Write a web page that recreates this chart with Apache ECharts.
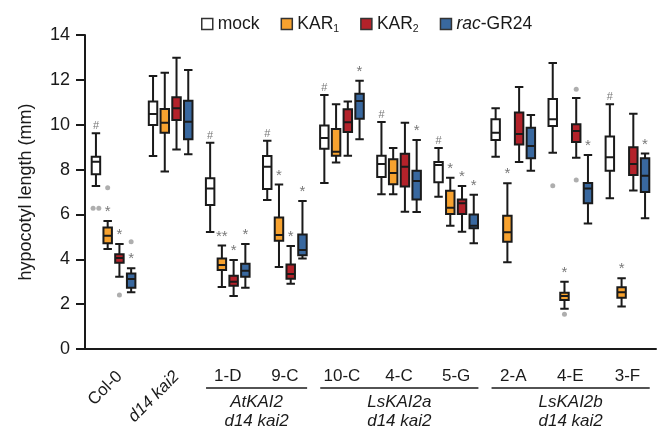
<!DOCTYPE html>
<html>
<head>
<meta charset="utf-8">
<script src="https://cdn.jsdelivr.net/npm/echarts@6/dist/echarts.min.js"></script>
<style>
html,body{margin:0;padding:0;background:#fff}
#main{width:659px;height:431px}
</style>
</head>
<body>
<div id="main"></div>
<script>
var categories = ['Col-0', 'd14 kai2', '1-D', '9-C', '10-C', '4-C', '5-G', '2-A', '4-E', '3-F'];
var seriesNames = ['mock', 'KAR1', 'KAR2', 'rac-GR24'];

// each row: [min, Q1, median, Q3, max]
var mockBoxes = [
  [7.27, 7.79, 8.35, 8.57, 9.62],
  [8.60, 9.99, 10.48, 11.03, 12.17],
  [5.22, 6.42, 7.16, 7.61, 9.20],
  [6.64, 7.13, 8.13, 8.60, 9.29],
  [7.40, 8.93, 9.41, 9.96, 11.32],
  [6.90, 7.67, 8.25, 8.62, 10.12],
  [6.79, 7.43, 8.20, 8.34, 8.96],
  [8.57, 9.32, 9.64, 10.24, 10.73],
  [8.75, 9.94, 10.24, 11.15, 12.75],
  [6.72, 7.95, 8.55, 9.47, 10.91]
];
var kar1Boxes = [
  [4.46, 4.71, 5.05, 5.42, 5.71],
  [7.91, 9.64, 10.09, 10.70, 12.32],
  [2.76, 3.52, 3.75, 4.03, 4.61],
  [3.66, 4.83, 5.08, 5.86, 7.33],
  [8.32, 8.62, 8.80, 9.81, 10.91],
  [6.90, 7.34, 7.85, 8.46, 8.96],
  [5.50, 6.02, 6.30, 7.06, 7.64],
  [3.87, 4.78, 5.20, 5.94, 7.39],
  [1.80, 2.18, 2.36, 2.51, 3.00],
  [1.89, 2.29, 2.53, 2.75, 3.15]
];
var kar2Boxes = [
  [3.22, 3.85, 4.06, 4.22, 4.68],
  [8.90, 10.21, 10.73, 11.22, 12.99],
  [2.36, 2.82, 3.00, 3.27, 3.97],
  [2.91, 3.13, 3.34, 3.77, 4.59],
  [8.62, 9.67, 10.11, 10.69, 11.04],
  [6.12, 7.24, 8.13, 8.71, 10.09],
  [5.23, 6.02, 6.50, 6.67, 7.27],
  [8.34, 9.12, 9.59, 10.54, 11.68],
  [8.53, 9.23, 9.72, 10.02, 11.19],
  [7.07, 7.76, 8.25, 8.99, 10.49]
];
var gr24Boxes = [
  [2.53, 2.73, 3.12, 3.37, 3.60],
  [8.68, 9.35, 10.13, 11.07, 12.44],
  [2.73, 3.22, 3.49, 3.80, 4.68],
  [4.03, 4.18, 4.41, 5.10, 6.60],
  [9.35, 10.27, 11.06, 11.38, 11.96],
  [6.11, 6.67, 7.49, 7.95, 9.32],
  [4.71, 5.38, 5.50, 6.00, 6.88],
  [7.95, 8.50, 9.05, 9.87, 10.43],
  [5.59, 6.50, 7.16, 7.40, 8.65],
  [5.83, 7.00, 7.73, 8.50, 8.72]
];

// outliers: [category index, value]
var mockOutliers = [[0, 6.27], [0, 6.27], [8, 7.28]];
var kar1Outliers = [[0, 7.19], [8, 1.55]];
var kar2Outliers = [[0, 2.41], [8, 11.58], [8, 7.53]];
var gr24Outliers = [[0, 4.78]];

// significance marks above each box
var mockMarks = ['#', '', '#', '#', '#', '#', '#', '', '', '#'];
var kar1Marks = ['*', '', '**', '*', '', '', '*', '*', '*', '*'];
var kar2Marks = ['*', '', '*', '*', '', '', '*', '', '', ''];
var gr24Marks = ['*', '', '*', '*', '*', '*', '*', '', '*', '*'];

var groupNames = ['AtKAI2', 'LsKAI2a', 'LsKAI2b'];
var groupFirst = [2, 4, 7];
var groupLast = [3, 6, 9];

var yMin = 0, yMax = 14, yStep = 2;

var boxes = [mockBoxes, kar1Boxes, kar2Boxes, gr24Boxes];
var outliers = [mockOutliers, kar1Outliers, kar2Outliers, gr24Outliers];
var marks = [mockMarks, kar1Marks, kar2Marks, gr24Marks];
var fills = ['#ffffff', '#F7A22F', '#B3222A', '#39689F'];
// box offset inside a category band (matches boxplot layout for 4 series)
var shift = [-0.308, -0.103, 0.103, 0.308];

var font = 'Liberation Sans, Arial, Helvetica, sans-serif';
var ink = '#1a1a1a';

var series = [];
boxes.forEach(function (b, s) {
  series.push({
    name: seriesNames[s],
    type: 'boxplot',
    xAxisIndex: 0,
    yAxisIndex: 0,
    data: b,
    itemStyle: { color: fills[s], borderColor: ink, borderWidth: 2 },
    emphasis: { disabled: true },
    z: 3
  });
});
outliers.forEach(function (o, s) {
  var seen = {};
  o.forEach(function (p) {
    var key = p[0] + '_' + p[1];
    seen[key] = (seen[key] || 0) + 1;
  });
  var count = {};
  var data = o.map(function (p) {
    var key = p[0] + '_' + p[1];
    var n = seen[key];
    var k = count[key] = (count[key] || 0) + 1;
    var jit = n > 1 ? (k - 1 - (n - 1) / 2) * 0.1 : 0;
    return [p[0] + shift[s] + jit, p[1]];
  });
  series.push({
    type: 'scatter',
    xAxisIndex: 1,
    yAxisIndex: 1,
    data: data,
    symbolSize: 5,
    itemStyle: { color: '#9a9a9a' },
    silent: true,
    z: 4
  });
});
marks.forEach(function (m, s) {
  var data = [];
  m.forEach(function (t, i) {
    if (t) data.push({ name: t, value: [i + shift[s], boxes[s][i][4]] });
  });
  series.push({
    type: 'scatter',
    xAxisIndex: 1,
    yAxisIndex: 1,
    data: data,
    symbolSize: 1,
    itemStyle: { color: 'rgba(0,0,0,0)' },
    silent: true,
    label: {
      show: true,
      position: 'top',
      distance: 1,
      formatter: function (p) { return p.name; },
      fontFamily: font,
      fontSize: s === 0 ? 11 : 15,
      color: '#555'
    },
    z: 5
  });
});

var chart = echarts.init(document.getElementById('main'), null, { renderer: 'canvas' });

var gridBox = { left: 85, right: 3, top: 35, bottom: 82 };

var option = {
  backgroundColor: '#fff',
  animation: false,
  textStyle: { fontFamily: font },
  legend: {
    top: 10,
    left: 196,
    itemWidth: 11,
    itemHeight: 11,
    itemGap: 21,
    icon: 'rect',
    selectedMode: false,
    data: seriesNames.map(function (n, i) {
      return { name: n, itemStyle: { color: fills[i], borderColor: '#333', borderWidth: 1.5 } };
    }),
    formatter: function (name) {
      if (name === 'KAR1') return 'KAR{sub|1}';
      if (name === 'KAR2') return 'KAR{sub|2}';
      if (name === 'rac-GR24') return '{it|rac}-GR24';
      return name;
    },
    textStyle: {
      fontFamily: font,
      fontSize: 17.5,
      color: ink,
      rich: {
        sub: { fontSize: 10.5, fontFamily: font, color: ink, padding: [10, 0, 0, 0] },
        it: { fontSize: 17.5, fontFamily: font, fontStyle: 'italic', color: ink }
      }
    }
  },
  grid: [
    Object.assign({}, gridBox),
    Object.assign({}, gridBox)
  ],
  xAxis: [
    {
      type: 'category',
      gridIndex: 0,
      data: categories,
      axisLine: { lineStyle: { color: ink, width: 2 } },
      axisTick: { alignWithLabel: true, length: 10, lineStyle: { color: ink, width: 2 } },
      axisLabel: {
        interval: 0,
        margin: 19,
        fontFamily: font,
        fontSize: 17,
        color: ink,
        formatter: function (v, i) { return i < 2 ? '' : v; }
      },
      splitLine: { show: false }
    },
    {
      type: 'value',
      gridIndex: 1,
      min: -0.5,
      max: 9.5,
      show: false
    },
    {
      type: 'category',
      gridIndex: 1,
      position: 'bottom',
      data: categories,
      axisLine: { show: false },
      axisTick: { show: false },
      axisLabel: {
        interval: 0,
        rotate: 45,
        margin: 19,
        verticalAlign: 'top',
        fontFamily: font,
        fontSize: 17,
        color: ink,
        formatter: function (v, i) {
          if (i === 0) return v;
          if (i === 1) return '{it|' + v + '}';
          return '';
        },
        rich: { it: { fontFamily: font, fontSize: 17, fontStyle: 'italic', color: ink } }
      }
    }
  ],
  yAxis: [
    {
      type: 'value',
      gridIndex: 0,
      min: yMin,
      max: yMax,
      interval: yStep,
      name: 'hypocotyl length (mm)',
      nameLocation: 'middle',
      nameGap: 50,
      nameTextStyle: { fontFamily: font, fontSize: 18, color: ink },
      axisLine: { show: true, lineStyle: { color: ink, width: 2 } },
      axisTick: { show: true, length: 9, lineStyle: { color: ink, width: 2 } },
      axisLabel: { margin: 15, fontFamily: font, fontSize: 18, color: ink },
      splitLine: { show: false }
    },
    {
      type: 'value',
      gridIndex: 1,
      min: yMin,
      max: yMax,
      show: false
    }
  ],
  series: series
};

chart.setOption(option);

// group brackets under the axis labels
var y0 = chart.convertToPixel({ yAxisIndex: 0 }, yMin);
var graphics = [];
groupNames.forEach(function (g, k) {
  var xa = chart.convertToPixel({ xAxisIndex: 1 }, groupFirst[k] - 0.38);
  var xb = chart.convertToPixel({ xAxisIndex: 1 }, groupLast[k] + 0.39);
  graphics.push({
    type: 'line',
    shape: { x1: xa, y1: y0 + 39, x2: xb, y2: y0 + 39 },
    style: { stroke: ink, lineWidth: 1.5 },
    silent: true
  });
  graphics.push({
    type: 'text',
    x: (xa + xb) / 2,
    y: y0 + 44,
    style: {
      text: g + '\nd14 kai2',
      fontFamily: font,
      fontSize: 17,
      fontStyle: 'italic',
      fill: ink,
      align: 'center',
      verticalAlign: 'top',
      lineHeight: 19
    },
    silent: true
  });
});
chart.setOption({ graphic: graphics });
</script>
</body>
</html>
